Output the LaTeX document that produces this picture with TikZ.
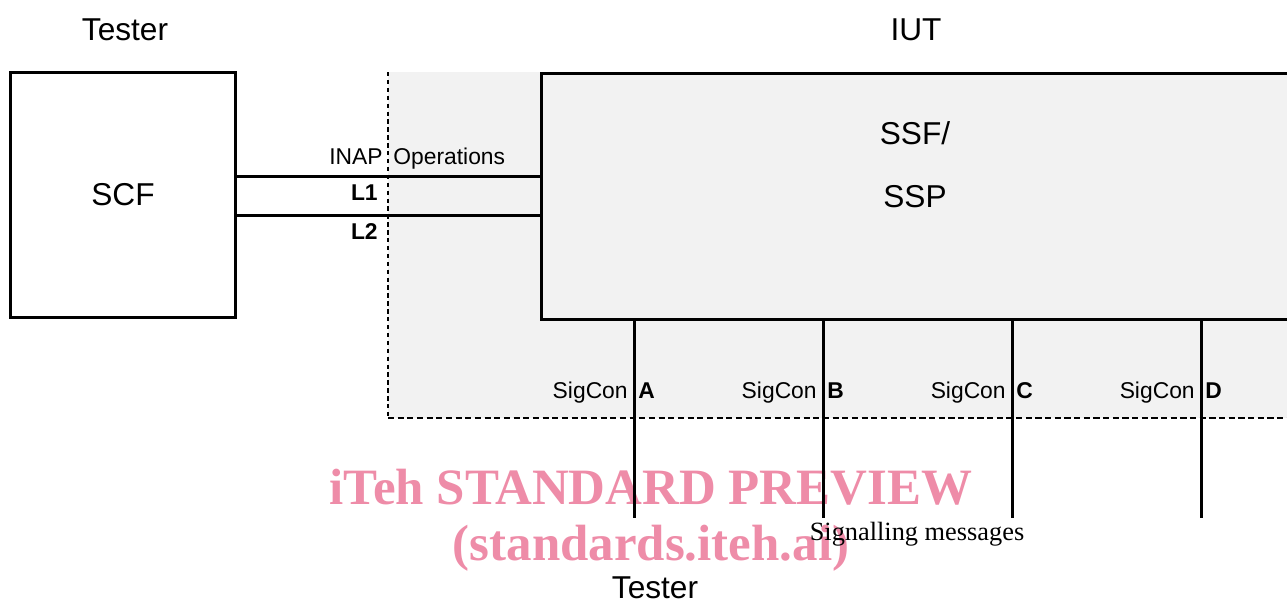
\documentclass[tikz,border=0pt]{standalone}
\usepackage{fontspec}
\setmainfont{Liberation Sans}
\newfontfamily\timesfont{Liberation Serif}
\usetikzlibrary{positioning}
\definecolor{iutgray}{RGB}{242,242,242}
\definecolor{markpink}{RGB}{238,140,168}

\begin{document}
\begin{tikzpicture}[x=0.02cm, y=-0.02cm,
  box/.style={draw, line width=1.7pt, inner sep=0pt},
  link/.style={line width=1.7pt},
  lbl/.style={inner sep=0pt, font=\fontsize{18}{20}\selectfont},
  small/.style={inner sep=0pt, font=\fontsize{13}{15}\selectfont},
  smallbold/.style={small, font=\fontsize{13}{15}\selectfont\bfseries},
  watermark/.style={inner sep=0pt, text=markpink, font=\timesfont\bfseries\fontsize{29}{31}\selectfont}]
 \useasboundingbox (0,0) rectangle (1287,603);
 \clip (0,0) rectangle (1287,603);

 % IUT area
 \fill[iutgray] (388,72) rectangle (1287,418);
 \draw[line width=1.2pt, dash pattern=on 2.5pt off 2pt](388,72)--(388,418);
 \draw[line width=1pt, dash pattern=on 3.5pt off 2pt](388,418)--(1287,418);

 % watermark, under the lines
 \node[watermark] (mark1) at (651,487) {iTeh STANDARD PREVIEW};
 \node[watermark] (mark2) at (651,548) {(standards.iteh.ai)};

 \node[lbl] (testertop) at (125,30) {Tester};
 \node[lbl] (iut) at (916,30) {IUT};

 \node[box, minimum width=4.52cm, minimum height=4.92cm] (scf) at (123,195) {};
 \node[lbl] at (scf.center) (scflbl) {SCF};

 \node[box, fill=iutgray, minimum width=15.4cm, minimum height=4.92cm, anchor=north west] (ssf) at (540,72) {};
 \node[lbl] (ssf1) at (915,133) {SSF/};
 \node[lbl] (ssp) at (915,197) {SSP};

 \draw[link] (scf.east |- 0,176) coordinate (l1a) -- (ssf.west |- l1a);
 \draw[link] (scf.east |- 0,215) coordinate (l2a) -- (ssf.west |- l2a);
 \node[small, anchor=base east] (inap) at (383,164) {INAP};
 \node[small, anchor=base west] (ops) at (393,164) {Operations};
 \node[smallbold, anchor=base east] (l1) at (378,200) {L1};
 \node[smallbold, anchor=base east] (l2) at (378,239) {L2};

 % signalling connections
 \foreach \x/\n in {634/A, 823/B, 1012/C, 1201/D}{
   \coordinate (end\n) at (\x,518);
   \draw[link] (ssf.south -| end\n) -- (end\n);
   \node[small, anchor=base east] (sig\n) at (\x-6,398) {SigCon};
   \node[smallbold, anchor=base west] (let\n) at (\x+4,398) {\n};
 }

 \node[inner sep=0pt, font=\timesfont\fontsize{15}{17}\selectfont] (sigmsg) at (917,534) {Signalling messages};
 \node[lbl] (testerbot) at (655,588) {Tester};
\end{tikzpicture}
\end{document}
